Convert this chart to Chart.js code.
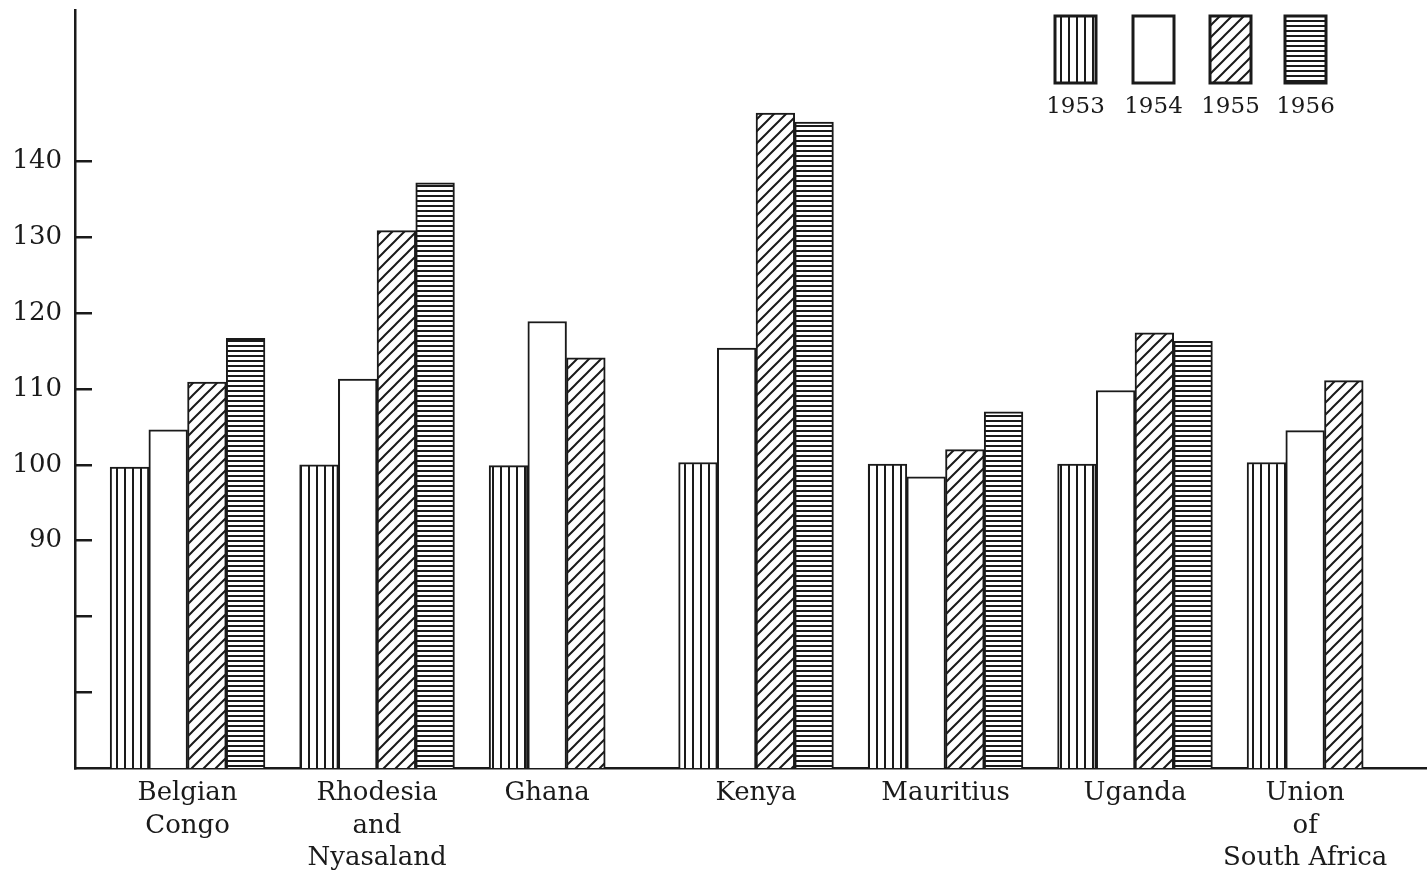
<!DOCTYPE html>
<html>
<head>
<meta charset="utf-8">
<script src="https://cdn.jsdelivr.net/npm/chart.js@4.4.0/dist/chart.umd.min.js"></script>
<style>
  html, body { margin: 0; padding: 0; background: #fff; }
  #wrap { width: 1427px; height: 873px; position: relative; }
</style>
</head>
<body>
<div id="wrap"><canvas id="chart"></canvas></div>
<script>
const categories = [
  ['Belgian', 'Congo'],
  ['Rhodesia', 'and', 'Nyasaland'],
  ['Ghana'],
  ['Kenya'],
  ['Mauritius'],
  ['Uganda'],
  ['Union', 'of', 'South Africa']
];
const years = ['1953', '1954', '1955', '1956'];
const v1953 = [99.7, 100.0, 99.9, 100.3, 100.1, 100.1, 100.3];
const v1954 = [104.6, 111.3, 118.9, 115.4, 98.4, 109.8, 104.5];
const v1955 = [110.9, 130.9, 114.1, 146.4, 102.0, 117.4, 111.1];
const v1956 = [116.7, 137.2, null, 145.2, 107.0, 116.3, null];
const yTicks = [70, 80, 90, 100, 110, 120, 130, 140];
const yLabelled = [90, 100, 110, 120, 130, 140];

const INK = '#1a1a1a';
const BAR_FRAC = 0.204;   // bar width in category units

function makePattern(w, h, draw) {
  const c = document.createElement('canvas');
  c.width = w; c.height = h;
  const g = c.getContext('2d');
  g.fillStyle = '#fff';
  g.fillRect(0, 0, w, h);
  g.fillStyle = INK;
  g.strokeStyle = INK;
  draw(g, w, h);
  return g.createPattern(c, 'repeat');
}

const vertical = makePattern(8, 4, g => g.fillRect(4, 0, 2, 4));
const horizontal = makePattern(4, 5, g => g.fillRect(0, 0, 4, 2));
const diagonal = makePattern(12, 12, (g, w, h) => {
  g.lineWidth = 2;
  g.beginPath();
  g.moveTo(-2, h + 2); g.lineTo(w + 2, -2);
  g.moveTo(-2, 2); g.lineTo(2, -2);
  g.moveTo(w - 2, h + 2); g.lineTo(w + 2, h - 2);
  g.stroke();
});
const fills = [vertical, '#fff', diagonal, horizontal];
const series = [v1953, v1954, v1955, v1956];

// label sits over the bars that are present in each group
const labelPos = categories.map((c, i) => {
  const n = series.filter(s => s[i] !== null).length;
  return i - (4 - n) / 2 * BAR_FRAC;
});

const legendPlugin = {
  id: 'boxLegend',
  afterDraw(chart) {
    const ctx = chart.ctx;
    const xs = [1055, 1133, 1210, 1285];
    ctx.save();
    xs.forEach((x, i) => {
      ctx.fillStyle = fills[i];
      ctx.fillRect(x, 16, 41, 67);
      ctx.lineWidth = 3;
      ctx.strokeStyle = INK;
      ctx.strokeRect(x, 16, 41, 67);
      ctx.fillStyle = INK;
      ctx.font = '23px "DejaVu Serif"';
      ctx.textAlign = 'center';
      ctx.textBaseline = 'middle';
      ctx.fillText(years[i], x + 20.5, 107);
    });
    ctx.restore();
  }
};

function noPad(s) {
  s.paddingTop = 0; s.paddingBottom = 0;
  s.paddingLeft = 0; s.paddingRight = 0;
}

Chart.defaults.font.family = '"DejaVu Serif", serif';
Chart.defaults.color = INK;

new Chart(document.getElementById('chart'), {
  type: 'bar',
  data: {
    datasets: years.map((y, k) => ({
      label: y,
      data: series[k].map((v, i) => ({ x: i, y: v })),
      backgroundColor: fills[k],
      borderColor: INK,
      borderWidth: 2,
      barThickness: 38.7
    }))
  },
  options: {
    responsive: true,
    maintainAspectRatio: false,
    animation: false,
    layout: { padding: { top: 10, right: 0, left: 0, bottom: 0 } },
    plugins: { legend: { display: false }, tooltip: { enabled: false } },
    scales: {
      x: {
        type: 'linear',
        offset: false,
        min: -0.594,
        max: 6.541,
        afterBuildTicks: s => { s.ticks = labelPos.map(v => ({ value: v })); },
        afterFit: s => { s.height = 105; noPad(s); },
        ticks: {
          autoSkip: false,
          maxRotation: 0,
          padding: 1,
          font: { size: 26, lineHeight: 1.25 },
          callback: (v, i) => categories[i]
        },
        grid: { display: false },
        border: { display: true, color: INK, width: 2.5 }
      },
      y: {
        min: 60,
        max: 160,
        afterBuildTicks: s => { s.ticks = yTicks.map(v => ({ value: v })); },
        afterFit: s => { s.width = 75; noPad(s); },
        ticks: {
          padding: 30,
          font: { size: 26 },
          callback: v => yLabelled.includes(v) ? String(v) : ''
        },
        grid: {
          drawOnChartArea: false,
          drawTicks: true,
          tickLength: -17,
          color: INK,
          lineWidth: 2.5
        },
        border: { display: true, color: INK, width: 2.5 }
      }
    }
  },
  plugins: [legendPlugin]
});
</script>
</body>
</html>
